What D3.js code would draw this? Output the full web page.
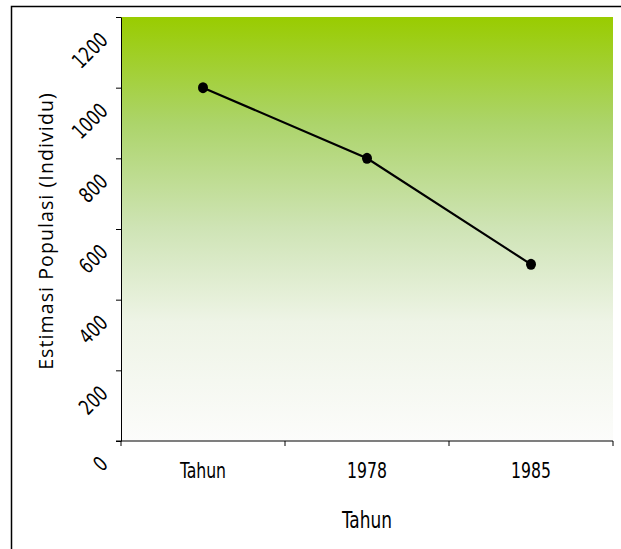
<!DOCTYPE html>
<html>
<head>
<meta charset="utf-8">
<script src="https://cdn.jsdelivr.net/npm/d3@7"></script>
<style>
  body { margin: 0; background: #fff; }
  .tick text { font-family: "DejaVu Sans Condensed", "DejaVu Sans", sans-serif; font-size: 21px; fill: #000; }
</style>
</head>
<body>
<div id="chart"></div>
<script>
(function(){

const categories = ["Tahun", "1978", "1985"];
const values = [1000, 800, 500];
const yTicks = [0, 200, 400, 600, 800, 1000, 1200];

const width = 621;
const height = 549;
const plot = {left: 121, right: 613, top: 17, bottom: 441};
const squeeze = 0.83; // labels in the original are a narrow face

const svg = d3.select("#chart")
  .append("svg")
  .attr("width", width)
  .attr("height", height);

// outer frame, runs off the right and bottom edge
svg.append("rect")
  .attr("x", 11.5)
  .attr("y", 6.5)
  .attr("width", 700)
  .attr("height", 600)
  .attr("fill", "none")
  .attr("stroke", "#000")
  .attr("stroke-width", 1.5);

const grad = svg.append("defs").append("linearGradient")
  .attr("id", "bg")
  .attr("x1", 0).attr("y1", 0)
  .attr("x2", 0).attr("y2", 1);
grad.append("stop").attr("offset", "0%").attr("stop-color", "#99cc00");
grad.append("stop").attr("offset", "25%").attr("stop-color", "#acd46a");
grad.append("stop").attr("offset", "50%").attr("stop-color", "#cfe4b6");
grad.append("stop").attr("offset", "72%").attr("stop-color", "#eef4e6");
grad.append("stop").attr("offset", "100%").attr("stop-color", "#fcfcfb");

const x = d3.scaleBand()
  .domain(categories)
  .range([plot.left, plot.right]);

const y = d3.scaleLinear()
  .domain([0, 1200])
  .range([plot.bottom, plot.top]);

svg.append("rect")
  .attr("x", plot.left)
  .attr("y", plot.top)
  .attr("width", plot.right - plot.left)
  .attr("height", plot.bottom - plot.top)
  .attr("fill", "url(#bg)");

// y axis
const yAxis = svg.append("g")
  .attr("transform", `translate(${plot.left},0)`)
  .call(d3.axisLeft(y).tickValues(yTicks).tickFormat(d3.format("d")).tickSize(5).tickSizeOuter(0));
yAxis.select(".domain").attr("stroke", "#000");
yAxis.selectAll(".tick line").attr("stroke", "#000");
yAxis.selectAll(".tick text")
  .attr("x", 0)
  .attr("dy", 0)
  .attr("text-anchor", "end")
  .attr("transform", `translate(-12,24) rotate(-45) scale(${squeeze},1)`);

// x axis labels
const xAxis = svg.append("g")
  .attr("transform", `translate(0,${plot.bottom})`)
  .call(d3.axisBottom(x).tickSize(0).tickPadding(0));
xAxis.select(".domain").remove();
xAxis.selectAll(".tick text")
  .attr("y", 0)
  .attr("dy", 0)
  .attr("transform", `translate(0,37) scale(${squeeze},1)`);

svg.append("line")
  .attr("x1", plot.left - 5).attr("x2", plot.right)
  .attr("y1", plot.bottom).attr("y2", plot.bottom)
  .attr("stroke", "#000");

const bounds = categories.map(d => x(d)).concat([x.range()[1]]);
svg.append("g")
  .selectAll("line")
  .data(bounds)
  .enter()
  .append("line")
  .attr("x1", d => d).attr("x2", d => d)
  .attr("y1", plot.bottom).attr("y2", plot.bottom + 5)
  .attr("stroke", "#000");

// series
const pts = categories.map((c, i) => ({c: c, v: values[i]}));
const line = d3.line()
  .x(d => x(d.c) + x.bandwidth() / 2)
  .y(d => y(d.v));

svg.append("path")
  .datum(pts)
  .attr("d", line)
  .attr("fill", "none")
  .attr("stroke", "#000")
  .attr("stroke-width", 2.2);

svg.append("g")
  .selectAll("ellipse")
  .data(pts)
  .enter()
  .append("ellipse")
  .attr("cx", d => x(d.c) + x.bandwidth() / 2)
  .attr("cy", d => y(d.v))
  .attr("rx", 5)
  .attr("ry", 5.5)
  .attr("fill", "#000");

// titles
svg.append("text")
  .attr("transform", `translate(${(plot.left + plot.right) / 2},528) scale(0.82,1)`)
  .attr("text-anchor", "middle")
  .style("font-family", "'DejaVu Sans Condensed', 'DejaVu Sans', sans-serif")
  .style("font-size", "23px")
  .text("Tahun");

svg.append("text")
  .attr("transform", "translate(53,231) rotate(-90)")
  .attr("text-anchor", "middle")
  .style("font-family", "'Open Sans', sans-serif")
  .style("font-size", "19.5px")
  .style("letter-spacing", "1.1px")
  .text("Estimasi Populasi (Individu)");

})();
</script>
</body>
</html>
